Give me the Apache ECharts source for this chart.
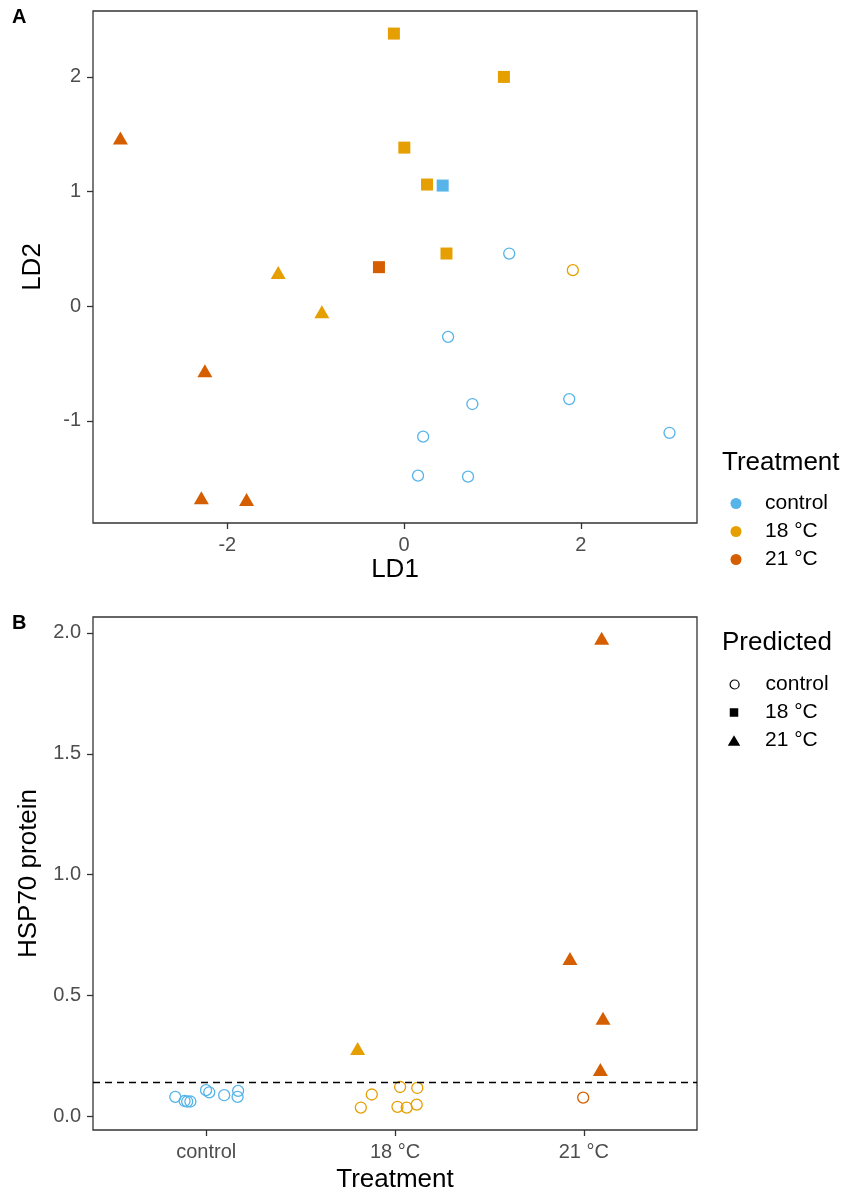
<!DOCTYPE html>
<html>
<head>
<meta charset="utf-8">
<script src="https://cdn.jsdelivr.net/npm/echarts@6/dist/echarts.min.js"></script>
<style>
html,body{margin:0;padding:0;background:#fff;}
#chart{width:849px;height:1195px;}
</style>
</head>
<body>
<div id="chart"></div>
<script>
// ---------- Panel A data (LD1, LD2) ----------
const aCtrlCircleX = [1.19, 0.498, 0.773, 1.869, 3.004, 0.216, 0.158, 0.724];
const aCtrlCircleY = [0.459, -0.268, -0.854, -0.811, -1.105, -1.139, -1.479, -1.488];
const aCtrlSquareX = [0.437];
const aCtrlSquareY = [1.052];
const a18SquareX = [-0.115, 1.13, 0.003, 0.26, 0.48];
const a18SquareY = [2.378, 2.0, 1.383, 1.061, 0.459];
const a18TriangleX = [-1.424, -0.93];
const a18TriangleY = [0.294, -0.05];
const a18CircleX = [1.91];
const a18CircleY = [0.314];
const a21TriangleX = [-3.21, -2.254, -2.294, -1.782];
const a21TriangleY = [1.467, -0.564, -1.671, -1.686];
const a21SquareX = [-0.284];
const a21SquareY = [0.340];

// ---------- Panel B data (Treatment position with jitter, HSP70 protein) ----------
const treatmentLabels = ['control', '18 °C', '21 °C'];
const bCtrlCircleX = [0.836, 0.885, 0.899, 0.916, 0.999, 1.016, 1.095, 1.169, 1.166];
const bCtrlCircleY = [0.080, 0.063, 0.061, 0.061, 0.108, 0.099, 0.087, 0.105, 0.080];
const b18TriangleX = [1.802];
const b18TriangleY = [0.280];
const b18CircleX = [1.819, 1.877, 2.027, 2.118, 2.013, 2.062, 2.115];
const b18CircleY = [0.036, 0.090, 0.121, 0.117, 0.039, 0.036, 0.048];
const b21TriangleX = [3.095, 2.927, 3.102, 3.088];
const b21TriangleY = [1.978, 0.653, 0.405, 0.193];
const b21CircleX = [2.997];
const b21CircleY = [0.077];
const thresholdValue = [0.141];

// ---------- tick values ----------
const aXTicks = [-2, 0, 2];
const aYTicks = [-1, 0, 1, 2];
const bXTicks = [1, 2, 3];
const bYTicks = [0, 0.5, 1, 1.5, 2];

const legendNames = ['control', '18 °C', '21 °C'];

const C_CTRL = '#56B4E9', C_18 = '#E69F00', C_21 = '#D55E00';
const FONT = '"Liberation Sans", Arial, sans-serif';

function zip(xs, ys) { return xs.map((x, i) => [x, ys[i]]); }

function circleSeries(name, xi, yi, xs, ys, color) {
  return { type: 'scatter', name, xAxisIndex: xi, yAxisIndex: yi, data: zip(xs, ys),
    symbol: 'circle', symbolSize: 11, silent: true, z: 3,
    itemStyle: { color: 'rgba(0,0,0,0)', borderColor: color, borderWidth: 1.3, opacity: 1 } };
}
function squareSeries(name, xi, yi, xs, ys, color) {
  return { type: 'scatter', name, xAxisIndex: xi, yAxisIndex: yi, data: zip(xs, ys),
    symbol: 'rect', symbolSize: 12, silent: true, z: 3,
    itemStyle: { color: color, opacity: 1 } };
}
function triangleSeries(name, xi, yi, xs, ys, color) {
  return { type: 'scatter', name, xAxisIndex: xi, yAxisIndex: yi, data: zip(xs, ys),
    symbol: 'triangle', symbolSize: [15, 13], silent: true, z: 3,
    itemStyle: { color: color, opacity: 1 } };
}

const tickStyle = { show: true, inside: false, length: 6, lineStyle: { color: '#333333', width: 1.3 } };
const labelBase = { color: '#4D4D4D', fontSize: 20, fontFamily: FONT };
const nameBase = { color: '#000', fontSize: 26, fontFamily: FONT };
const hiddenLine = { show: false, onZero: false };
const legendText = { color: '#000', fontSize: 21, fontFamily: FONT, lineHeight: 21 };

function oneLegend(name, icon, w, h, cx, centerY, style) {
  const left = cx - w / 2;
  return { orient: 'vertical', left: left, top: centerY - 10.5, itemWidth: w, itemHeight: h,
    selectedMode: false, padding: 0,
    data: [{ name: name, icon: icon, itemStyle: style }],
    textStyle: Object.assign({ padding: [0, 0, 0, 765 - left - w - 5] }, legendText) };
}

const option = {
  animation: false,
  backgroundColor: '#ffffff',
  grid: [
    { left: 93, right: 152, top: 11, height: 512, show: true, borderColor: '#333333', borderWidth: 1.3, backgroundColor: 'transparent', outerBoundsMode: 'none' },
    { left: 93, right: 152, top: 617, height: 513, show: true, borderColor: '#333333', borderWidth: 1.3, backgroundColor: 'transparent', outerBoundsMode: 'none' }
  ],
  xAxis: [
    { type: 'value', gridIndex: 0, min: -3.52, max: 3.315, position: 'bottom',
      axisLine: hiddenLine, splitLine: { show: false },
      axisTick: Object.assign({ customValues: aXTicks }, tickStyle),
      axisLabel: Object.assign({ customValues: aXTicks, margin: 12 }, labelBase),
      name: 'LD1', nameLocation: 'middle', nameGap: 34, nameTextStyle: nameBase },
    { type: 'value', gridIndex: 1, min: 0.4, max: 3.6, position: 'bottom',
      axisLine: hiddenLine, splitLine: { show: false },
      axisTick: Object.assign({ customValues: bXTicks }, tickStyle),
      axisLabel: Object.assign({ customValues: bXTicks, margin: 12,
        formatter: v => treatmentLabels[Math.round(v) - 1] }, labelBase),
      name: 'Treatment', nameLocation: 'middle', nameGap: 37, nameTextStyle: nameBase }
  ],
  yAxis: [
    { type: 'value', gridIndex: 0, min: -1.892, max: 2.575, position: 'left',
      axisLine: hiddenLine, splitLine: { show: false },
      axisTick: Object.assign({ customValues: aYTicks }, tickStyle),
      axisLabel: Object.assign({ customValues: aYTicks, margin: 12 }, labelBase),
      name: 'LD2', nameLocation: 'middle', nameGap: 47, nameTextStyle: nameBase },
    { type: 'value', gridIndex: 1, min: -0.057, max: 2.066, position: 'left',
      axisLine: hiddenLine, splitLine: { show: false },
      axisTick: Object.assign({ customValues: bYTicks }, tickStyle),
      axisLabel: Object.assign({ customValues: bYTicks, margin: 12,
        formatter: v => v.toFixed(1) }, labelBase),
      name: 'HSP70 protein', nameLocation: 'middle', nameGap: 47, nameTextStyle: nameBase }
  ],
  legend: [
    oneLegend('control', 'circle', 11, 11, 736, 503.5, { color: C_CTRL, borderWidth: 0, opacity: 1 }),
    oneLegend('18 °C', 'circle', 11, 11, 736, 531.5, { color: C_18, borderWidth: 0, opacity: 1 }),
    oneLegend('21 °C', 'circle', 11, 11, 736, 559.5, { color: C_21, borderWidth: 0, opacity: 1 }),
    oneLegend('control', 'circle', 9, 9, 734, 684.5, { color: 'rgba(0,0,0,0)', borderColor: '#000', borderWidth: 1.2, opacity: 1 }),
    oneLegend('18 °C', 'rect', 8.5, 8.5, 734, 712.5, { color: '#000', borderWidth: 0, opacity: 1 }),
    oneLegend('21 °C', 'path://M6,0L12,10L0,10Z', 12.5, 10.5, 734, 740.5, { color: '#000', borderWidth: 0, opacity: 1 })
  ],
  graphic: [
    { type: 'text', left: 12, top: 7, style: { text: 'A', fill: '#000', font: 'bold 20px ' + FONT } },
    { type: 'text', left: 12, top: 613, style: { text: 'B', fill: '#000', font: 'bold 20px ' + FONT } },
    { type: 'text', left: 722, top: 450, style: { text: 'Treatment', fill: '#000', font: '26px ' + FONT } },
    { type: 'text', left: 722, top: 630, style: { text: 'Predicted', fill: '#000', font: '26px ' + FONT } }
  ],
  series: [
    // legend placeholder series
    { type: 'scatter', name: 'control', xAxisIndex: 0, yAxisIndex: 0, data: [] },
    { type: 'scatter', name: '18 °C', xAxisIndex: 0, yAxisIndex: 0, data: [] },
    { type: 'scatter', name: '21 °C', xAxisIndex: 0, yAxisIndex: 0, data: [] },
    // panel A
    circleSeries('A ctrl circle', 0, 0, aCtrlCircleX, aCtrlCircleY, C_CTRL),
    squareSeries('A ctrl square', 0, 0, aCtrlSquareX, aCtrlSquareY, C_CTRL),
    squareSeries('A 18 square', 0, 0, a18SquareX, a18SquareY, C_18),
    triangleSeries('A 18 triangle', 0, 0, a18TriangleX, a18TriangleY, C_18),
    circleSeries('A 18 circle', 0, 0, a18CircleX, a18CircleY, C_18),
    triangleSeries('A 21 triangle', 0, 0, a21TriangleX, a21TriangleY, C_21),
    squareSeries('A 21 square', 0, 0, a21SquareX, a21SquareY, C_21),
    // panel B
    Object.assign(circleSeries('B ctrl circle', 1, 1, bCtrlCircleX, bCtrlCircleY, C_CTRL), {
      markLine: { silent: true, symbol: ['none', 'none'], label: { show: false },
        lineStyle: { color: '#000', type: [7, 5], width: 1.4, opacity: 1 },
        data: thresholdValue.map(v => ({ yAxis: v })) } }),
    triangleSeries('B 18 triangle', 1, 1, b18TriangleX, b18TriangleY, C_18),
    circleSeries('B 18 circle', 1, 1, b18CircleX, b18CircleY, C_18),
    triangleSeries('B 21 triangle', 1, 1, b21TriangleX, b21TriangleY, C_21),
    circleSeries('B 21 circle', 1, 1, b21CircleX, b21CircleY, C_21)
  ]
};

const chart = echarts.init(document.getElementById('chart'), null, { renderer: 'canvas' });
chart.setOption(option);
</script>
</body>
</html>
